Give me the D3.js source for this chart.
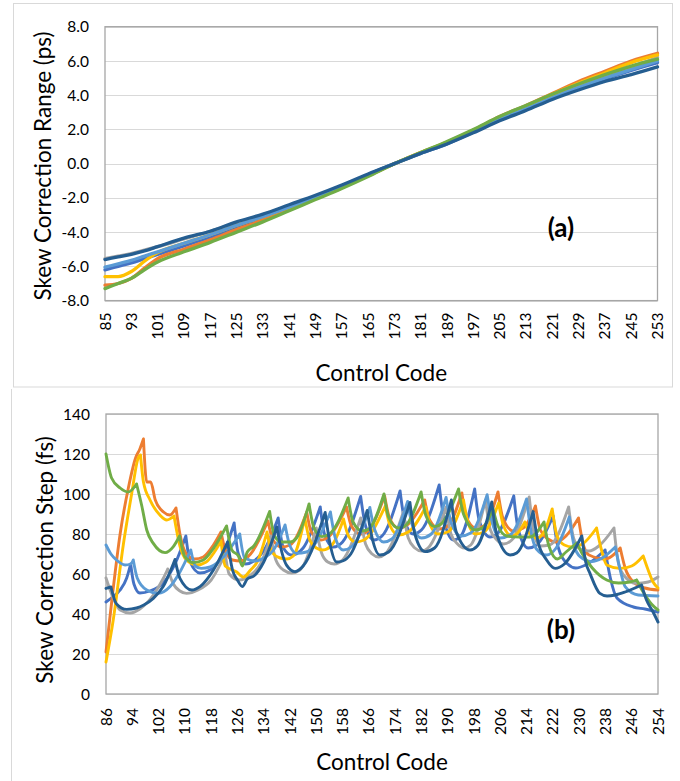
<!DOCTYPE html>
<html><head><meta charset="utf-8">
<script src="https://cdn.jsdelivr.net/npm/d3@7"></script>
<style>
body{margin:0;background:#fff}
svg{display:block}
text{font-family:Lato,"Open Sans","Noto Sans",sans-serif;fill:#000}
</style>
</head><body>
<svg id="chart" width="680" height="781"></svg>
<script>
// ---------- shared ----------
const seriesNames = ["S1","S2","S3","S4","S5","S6","S7"];
const seriesColors = ["#4472C4","#ED7D31","#A5A5A5","#FFC000","#5B9BD5","#70AD47","#255E91"];

// ---------- panel (a): Skew Correction Range (ps) ----------
const topCodes = [85,89,93,97,101,109,117,125,133,141,149,157,165,173,181,189,197,205,213,221,229,237,245,253];
const topS1 = [-6.2,-6.0,-5.8,-5.55,-5.3,-4.8,-4.3,-3.75,-3.2,-2.6,-2.0,-1.35,-0.65,0.0,0.6,1.15,1.85,2.55,3.15,3.8,4.4,4.95,5.45,5.9];
const topS2 = [-7.1,-7.0,-6.7,-6.1,-5.55,-5.0,-4.45,-3.85,-3.3,-2.7,-2.05,-1.4,-0.7,0.0,0.65,1.25,1.95,2.75,3.4,4.1,4.8,5.4,6.0,6.45];
const topS3 = [-5.55,-5.4,-5.25,-5.05,-4.85,-4.4,-3.95,-3.45,-3.0,-2.45,-1.9,-1.3,-0.65,0.0,0.62,1.2,1.9,2.6,3.25,3.9,4.5,5.1,5.65,6.2];
const topS4 = [-6.6,-6.6,-6.3,-5.7,-5.2,-4.65,-4.15,-3.6,-3.1,-2.55,-2.0,-1.35,-0.7,0.0,0.65,1.25,1.95,2.7,3.35,4.05,4.7,5.3,5.9,6.35];
const topS5 = [-6.05,-5.85,-5.65,-5.4,-5.15,-4.65,-4.15,-3.6,-3.1,-2.55,-1.95,-1.3,-0.65,0.0,0.62,1.2,1.9,2.6,3.2,3.85,4.45,5.0,5.5,6.0];
const topS6 = [-7.3,-7.0,-6.7,-6.2,-5.75,-5.15,-4.6,-4.0,-3.4,-2.75,-2.1,-1.45,-0.75,0.0,0.65,1.3,2.0,2.75,3.4,4.05,4.65,5.2,5.7,6.1];
const topS7 = [-5.6,-5.45,-5.3,-5.1,-4.85,-4.35,-3.95,-3.4,-2.95,-2.4,-1.85,-1.25,-0.6,0.0,0.6,1.15,1.8,2.5,3.1,3.75,4.3,4.8,5.2,5.65];
const topXTicks = [85,93,101,109,117,125,133,141,149,157,165,173,181,189,197,205,213,221,229,237,245,253];
const topYTicks = [-8,-6,-4,-2,0,2,4,6,8];

// ---------- panel (b): Skew Correction Step (fs) — [control code, fs] vertices ----------
const botS1 = [[86,46],[88,48.5],[90.3,52],[92.3,58],[93.5,65],[94.5,55],[96.3,50.5],[99.4,51.5],[103.4,55.5],[107,65],[110.3,79],[111.6,66],[114.6,60.5],[117.7,62],[121.7,70],[125,85.5],[126.3,70],[128.5,65],[131,66.5],[134.5,73],[138.4,88],[140,73],[142.5,69.5],[146,73],[151.2,93.5],[152.5,80],[155.2,73.5],[158,76],[163.5,98.8],[165,84],[167.5,77],[170,79],[175.5,101.5],[177,86],[179.5,80],[182,82],[187.4,104.5],[189,86],[191.7,77],[194,79],[198.2,102.5],[199.7,86],[202.9,78.5],[205,80],[210.1,99],[211.5,82],[214.5,73],[217,74.5],[222.1,89],[223.5,74],[226.5,65],[229,63],[232,64.5],[237.9,72],[239.5,58],[241.5,48],[246.5,43.5],[250,42.5],[254,41]];
const botS2 = [[86,21],[88,50],[90.3,80],[92.8,103],[95,118],[96.3,122.5],[97.4,127.5],[98.4,106],[99.6,106],[101,97],[103.5,91],[105.4,89.5],[107.3,93],[108.5,80],[110.7,69.5],[113,67.5],[115.6,68.5],[118.7,74.5],[121,81],[122.3,72],[124.5,67],[127,66.5],[130,70],[135.3,86.5],[136.8,77],[139.5,73.5],[142,74.5],[147.1,91],[148.5,81],[151.5,77],[154,79],[159.2,93.5],[160.7,84],[163.5,80],[166,82],[170.8,99],[172.3,88],[175,83],[178,85],[183,97],[184.5,87],[187.5,82.5],[190,84],[194.3,100.5],[195.8,88],[198.5,83],[201,84],[205.3,101],[206.8,88],[210,81.5],[213,83],[216.7,94],[218.2,82],[220.5,77.5],[223,76],[226,79],[229.8,88],[231.2,75],[233,69.5],[238,67.5],[240,69],[242.5,73],[244,63],[246.5,56],[250,53],[254,52]];
const botS3 = [[86,58],[87.7,50],[90.3,42],[93.3,40.5],[96.3,42.5],[100.4,49.5],[103.5,58],[104.8,62.5],[106.5,55],[108.5,51.5],[110.5,50.3],[114,52],[118,57],[122.3,70],[123.5,60],[126.5,57],[130,59.5],[133,65],[136.2,79],[137.7,67],[140,62],[142.5,60.5],[145,62],[150,83],[151.5,71],[153.5,66],[155.5,65],[158,67],[163.5,88],[165,75],[167,70],[169,68.5],[171,70],[176.5,91],[178,78],[180,73],[182,71.5],[184,73],[189.5,93.5],[191,80],[193,75],[195,73],[197,74.5],[201.5,97],[203,82],[205,77],[207,75],[209.5,77],[214.8,98.5],[216.3,80],[218,74],[221,74.5],[226.8,93.5],[228.3,78],[230.3,72.5],[233,71.5],[236,74],[240.6,83],[242,65],[243.5,59.5],[247.5,55.3],[251,56],[254,58.5]];
const botS4 = [[86,16],[88.2,37],[91.3,75],[93.8,100],[95.8,118],[96.5,119.5],[97.4,106],[99.4,97],[102.4,89.5],[104.5,87],[106.7,89],[108.5,74],[110.5,67],[113.6,64.5],[116.5,66],[119,71],[121,76.5],[122.3,64],[125.8,61],[127.8,58.5],[130,62],[132,66],[135,81],[136.5,71],[139,68],[141,67.5],[143,69],[146.5,88],[148,77],[150,73],[152,72],[155,75],[158.3,87.5],[159.8,79],[162,76],[164.5,77],[171,94],[172.5,84],[175,79.5],[178,81],[183.3,93.5],[184.8,84],[187,80],[190,81],[194.8,97],[196.3,85],[198.5,80],[201,81],[205.5,95.5],[207,84],[209.5,79],[211,80],[213.5,86],[215,80],[217,78],[219,80],[221.8,92.5],[223.3,79],[225.5,74.5],[228,73.5],[231,75],[235.3,83],[236.8,72],[238.4,64.5],[242.4,62.8],[246,64],[249.5,69],[251,62],[252.5,56],[254,53]];
const botS5 = [[86,74.5],[87.5,70],[89.2,67],[91.8,64.5],[93.5,65],[94.3,67],[95.5,58],[98.4,52],[101.9,50.3],[105.5,53.7],[108.5,61],[111.8,72],[113.2,64],[115,62.8],[117.7,63.5],[122,69],[126.7,80],[128.2,68],[131.4,66.5],[134,68],[137,72],[140.5,84.5],[142,74],[144,70.3],[147,71],[150,76],[154.3,91],[155.8,78],[158.2,72],[161,74],[166.3,93.3],[167.8,82],[170.5,76],[173,77.5],[177.8,96.3],[179.3,84],[182,78],[185,80],[189.5,98.3],[191,86],[194,79],[197,80.5],[202,99.6],[203.5,86],[206,78],[209,79.5],[214,97.5],[215.5,80],[217,72.5],[220,69.5],[223,73],[227,88.5],[228.5,74],[230.3,68.7],[233.8,66.2],[237,68],[241,73.5],[242.5,62],[244,53.7],[248,49.5],[254,49]];
const botS6 = [[86,120],[87.7,108],[90.3,103],[92.8,101],[95.3,105],[96.9,94],[98.4,82],[100.4,75.3],[104,70.7],[106.5,73.7],[108.4,79],[110,68.7],[112.6,65.7],[115.6,67],[118.7,72.8],[122.7,84],[124.3,72],[126.3,69],[127.5,64],[129,71],[131,74],[135.8,91.3],[137.3,79],[139.5,76],[142,76],[144,78],[147.8,95],[149.3,83],[151.7,78.7],[154,80],[159.7,98],[161.2,86],[164,81.5],[166,82.5],[170.6,100],[172.1,88],[175,83],[177,84],[181.9,101],[183.4,89],[186,83.7],[188,85],[193.3,102.5],[194.8,90],[198.5,82],[200.5,83],[203.8,92.5],[205.3,84],[208,79],[212,78.5],[215,78.5],[219.3,86],[220.8,74],[223.4,67.5],[226,71],[229.3,75.5],[231,70],[234,63],[238.4,57],[242,55.5],[245.5,56],[247.5,57],[249.5,51],[252,45],[254,42]];
const botS7 = [[86,52.8],[87.5,53.5],[89.2,45],[92.3,42.3],[95.3,43],[97.5,44.5],[100.4,47.8],[103.4,53.7],[107,67.3],[108.5,57.8],[112.1,52],[114.6,53.7],[118.7,62],[123,76],[124.5,62],[126,57],[127.5,53.7],[129,57.5],[131,59],[134,66],[138,83.5],[139.5,71],[141,64.3],[143.5,61.2],[146,64],[152.7,90.8],[154.2,75],[156.2,66],[158,66.5],[160.5,70],[165.5,91.8],[167,78],[169.4,69.5],[172,71],[178.5,95.8],[180,80],[183.1,71.2],[186,73],[191.1,97],[192.6,81],[196.8,72],[199,74],[203.4,96],[204.9,80],[209,69.5],[211,70.5],[216,91.2],[217.5,76],[220.1,67],[222.7,62.8],[225.5,65],[230.8,79],[232,66],[233.3,60.3],[236.3,50.3],[238.5,49],[241,49.5],[244,51],[249,54.5],[250.5,47],[252.5,41],[254,36]];
const botXTicks = [86,94,102,110,118,126,134,142,150,158,166,174,182,190,198,206,214,222,230,238,246,254];
const botYTicks = [0,20,40,60,80,100,120,140];

// ---------- drawing ----------
const svg = d3.select("#chart");

// panel frames
svg.append("rect").attr("x",13.5).attr("y",3.5).attr("width",659).attr("height",383.5)
  .attr("fill","none").attr("stroke","#D9D9D9");
svg.append("line").attr("x1",11.5).attr("x2",11.5).attr("y1",389).attr("y2",781)
  .attr("stroke","#D9D9D9");

function panel(cfg){
  const g = svg.append("g");
  const x = d3.scaleLinear().domain(cfg.xDomain).range([cfg.left, cfg.right]);
  const y = d3.scaleLinear().domain(cfg.yDomain).range([cfg.bottom, cfg.top]);

  // gridlines
  g.append("g").selectAll("line").data(cfg.yTicks).join("line")
    .attr("x1",cfg.left).attr("x2",cfg.right)
    .attr("y1",d=>Math.round(y(d))+0.5).attr("y2",d=>Math.round(y(d))+0.5)
    .attr("stroke","#D9D9D9").attr("stroke-width",1.2);

  // y tick labels
  g.append("g").selectAll("text").data(cfg.yTicks).join("text")
    .attr("x",cfg.left-16).attr("y",d=>y(d)).attr("dy","0.36em")
    .attr("text-anchor","end").attr("font-size",15.5)
    .text(cfg.yFmt);

  // x tick labels (rotated)
  g.append("g").selectAll("text").data(cfg.xTicks).join("text")
    .attr("transform",d=>`translate(${x(d)+5.5},${cfg.bottom+cfg.xLabGap}) rotate(-90)`)
    .attr("text-anchor","end").attr("font-size",15.5)
    .text(d=>d);

  // plot border
  g.append("rect").attr("x",cfg.left).attr("y",cfg.top)
    .attr("width",cfg.right-cfg.left).attr("height",cfg.bottom-cfg.top)
    .attr("fill","none").attr("stroke","#A6A6A6").attr("stroke-width",1.3);

  // series
  const line = d3.line().x(d=>x(d[0])).y(d=>y(d[1])).curve(d3.curveMonotoneX);
  cfg.series.forEach((pts,i)=>{
    let d;
    if(cfg.cusps){
      const segs=[]; let cur=[pts[0]];
      for(let k=1;k<pts.length;k++){
        cur.push(pts[k]);
        const isMax = k<pts.length-1 && pts[k][1]>pts[k-1][1] && pts[k][1]>pts[k+1][1];
        if(isMax){ segs.push(cur); cur=[pts[k]]; }
      }
      if(cur.length>1) segs.push(cur);
      d = segs.map(s=>line(s)).join("");
    } else d = line(pts);
    g.append("path").attr("d",d).attr("fill","none")
      .attr("stroke",seriesColors[i]).attr("stroke-width",cfg.lw)
      .attr("stroke-linejoin","round").attr("stroke-linecap","round")
      .attr("data-name",seriesNames[i]);
  });

  // axis titles
  g.append("text").attr("transform",`translate(${cfg.yTitleX},${cfg.yTitleY}) rotate(-90)`)
    .attr("text-anchor","middle").attr("font-size",22.5).text(cfg.yTitle);
  g.append("text").attr("x",(cfg.left+cfg.right)/2).attr("y",cfg.xTitleY)
    .attr("text-anchor","middle").attr("font-size",22.5).text(cfg.xTitle);

  // panel label
  g.append("text").attr("x",cfg.labX).attr("y",cfg.labY).attr("text-anchor","middle")
    .attr("font-size",26).attr("font-weight","bold").text(cfg.label);
}

panel({
  left:105, right:657.5, top:26.7, bottom:300.6,
  xDomain:[85,253], yDomain:[-8,8],
  yTicks:topYTicks, xTicks:topXTicks, yFmt:d=>d.toFixed(1), xLabGap:12,
  series:[topS1,topS2,topS3,topS4,topS5,topS6,topS7].map(v=>v.map((val,k)=>[topCodes[k],val])),
  cusps:false, lw:3.3,
  yTitle:"Skew Correction Range (ps)", yTitleX:51, yTitleY:166,
  xTitle:"Control Code", xTitleY:381,
  label:"(a)", labX:561, labY:237
});

panel({
  left:106, right:658, top:414, bottom:694,
  xDomain:[86,254], yDomain:[0,140],
  yTicks:botYTicks, xTicks:botXTicks, yFmt:d=>String(d), xLabGap:14,
  series:[botS1,botS2,botS3,botS4,botS5,botS6,botS7],
  cusps:true, lw:2.9,
  yTitle:"Skew Correction Step (fs)", yTitleX:53, yTitleY:560,
  xTitle:"Control Code", xTitleY:770,
  label:"(b)", labX:561, labY:639
});
</script>
</body></html>
